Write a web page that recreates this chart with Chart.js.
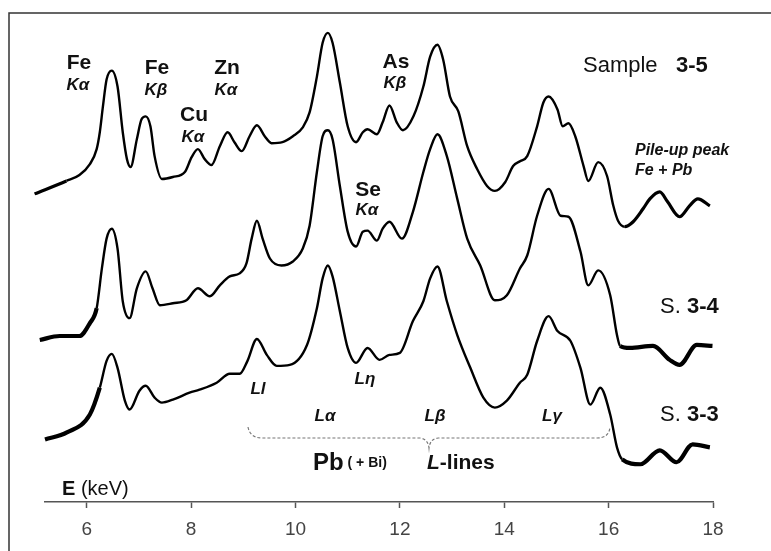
<!DOCTYPE html>
<html>
<head>
<meta charset="utf-8">
<script src="https://cdn.jsdelivr.net/npm/chart.js@4"></script>
<style>
  html, body { margin: 0; padding: 0; background: #fff; }
  #wrap { width: 771px; height: 551px; }
</style>
</head>
<body>
<div id="wrap"><canvas id="spectraChart" width="771" height="551"></canvas></div>
<script>
// Sample 3-5 (top trace)
const keV35 = [5.00, 5.61, 5.86, 6.06, 6.19, 6.25, 6.31, 6.38, 6.48, 6.59, 6.69, 6.77, 6.84, 6.96, 7.05, 7.13, 7.22, 7.30, 7.44, 7.65,
  7.88, 8.01, 8.13, 8.26, 8.39, 8.55, 8.70, 8.83, 8.97, 9.12, 9.26, 9.41, 9.54, 9.75, 9.95, 10.14, 10.27, 10.41, 10.52, 10.62,
  10.71, 10.85, 11.00, 11.16, 11.29, 11.38, 11.56, 11.67, 11.80, 11.94, 12.06, 12.26, 12.45, 12.58, 12.72, 12.83, 12.96, 13.12, 13.29, 13.48,
  13.67, 13.82, 14.02, 14.17, 14.31, 14.44, 14.63, 14.75, 14.85, 15.02, 15.12, 15.23, 15.36, 15.52, 15.61, 15.80, 15.97, 16.09, 16.18, 16.31,
  16.47, 16.66, 16.79, 16.98, 17.13, 17.36, 17.55, 17.71, 17.94];
const cnt35 = [310, 323, 329, 340, 355, 372, 398, 425, 434, 418, 372, 345, 337, 365, 385, 388, 378, 348, 325, 327,
  332, 347, 355, 345, 339, 358, 372, 362, 353, 368, 379, 368, 361, 362, 368, 377, 392, 428, 462, 472,
  462, 422, 378, 362, 372, 375, 370, 382, 399, 382, 374, 388, 418, 448, 460, 445, 408, 393, 358, 335,
  318, 313, 322, 338, 343, 348, 378, 402, 408, 395, 378, 381, 368, 338, 323, 342, 328, 298, 283, 277,
  282, 295, 305, 312, 302, 287, 298, 305, 298];

// S. 3-4 (middle trace)
const keV34 = [5.10, 5.48, 5.86, 6.06, 6.19, 6.29, 6.38, 6.48, 6.59, 6.69, 6.82, 6.96, 7.13, 7.26, 7.40, 7.65, 7.91, 8.13, 8.36, 8.55,
  8.74, 8.93, 9.06, 9.16, 9.26, 9.37, 9.51, 9.73, 9.95, 10.14, 10.27, 10.41, 10.52, 10.62, 10.71, 10.85, 11.00, 11.16, 11.29, 11.38,
  11.56, 11.67, 11.80, 12.04, 12.25, 12.45, 12.58, 12.72, 12.90, 13.10, 13.29, 13.54, 13.82, 14.05, 14.30, 14.44, 14.63, 14.85, 15.08, 15.23,
  15.46, 15.61, 15.80, 16.03, 16.16, 16.22, 16.41, 16.85, 17.17, 17.36, 17.69, 17.99];
const cnt34 = [163, 167, 167, 180, 195, 235, 265, 275, 255, 202, 185, 215, 232, 215, 198, 200, 203, 215, 207, 218,
  227, 230, 240, 265, 283, 265, 245, 238, 242, 255, 278, 332, 368, 374, 365, 318, 272, 257, 272, 273,
  263, 275, 282, 265, 292, 332, 355, 370, 348, 305, 265, 238, 203, 208, 235, 248, 288, 315, 288, 287,
  252, 218, 233, 208, 168, 157, 155, 157, 143, 138, 158, 157];

// S. 3-3 (bottom trace)
const keV33 = [5.20, 5.62, 6.06, 6.25, 6.38, 6.48, 6.59, 6.73, 6.82, 7.01, 7.13, 7.30, 7.44, 7.65, 7.97, 8.16, 8.49, 8.74, 8.93, 9.08,
  9.26, 9.45, 9.64, 9.89, 10.22, 10.41, 10.52, 10.62, 10.71, 10.85, 11.00, 11.16, 11.38, 11.61, 11.80, 12.00, 12.25, 12.45, 12.58, 12.72,
  12.90, 13.10, 13.35, 13.60, 13.82, 14.05, 14.30, 14.44, 14.63, 14.85, 15.02, 15.27, 15.46, 15.65, 15.84, 16.03, 16.16, 16.26, 16.61, 16.98,
  17.30, 17.61, 17.94];
const cnt33 = [63, 70, 88, 115, 142, 149, 135, 102, 93, 112, 117, 105, 100, 103, 110, 113, 120, 129, 129, 142,
  164, 148, 137, 138, 158, 195, 225, 238, 227, 192, 155, 140, 155, 143, 148, 150, 182, 202, 225, 237,
  202, 168, 135, 105, 95, 102, 120, 128, 162, 187, 172, 162, 135, 98, 115, 88, 55, 43, 38, 52,
  40, 58, 55];

const xTicks = [6, 8, 10, 12, 14, 16, 18];

const FONT = "'Liberation Sans', Arial, sans-serif";

function pts(xs, ys) {
  return xs.map((x, i) => ({ x: x, y: ys[i] }));
}

// thicker strokes where the measured trace is noisy
function noisyWidth(lo, hi, thick) {
  return ctx => {
    const x = ctx.p0.parsed.x;
    return (x < lo || x > hi) ? thick : 2.4;
  };
}

function drawRuns(ctx, x, y, runs) {
  let cx = x;
  ctx.textAlign = "left";
  runs.forEach(r => {
    ctx.font = r.f;
    ctx.fillText(r.t, cx, y);
    cx += ctx.measureText(r.t).width;
  });
}

const annotations = {
  id: "annotations",
  afterDraw(chart) {
    const ctx = chart.ctx;
    ctx.save();

    // frame (top and left only)
    ctx.strokeStyle = "#333";
    ctx.lineWidth = 1.5;
    ctx.beginPath();
    ctx.moveTo(9, 551);
    ctx.lineTo(9, 13);
    ctx.lineTo(771, 13);
    ctx.stroke();

    ctx.fillStyle = "#111";
    ctx.textBaseline = "middle";
    ctx.textAlign = "center";

    const el = "bold 21px " + FONT;
    const ln = "italic bold 17px " + FONT;
    [
      ["Fe", 79, 63, el], ["Kα", 78, 85, ln],
      ["Fe", 157, 68, el], ["Kβ", 156, 90, ln],
      ["Cu", 194, 115, el], ["Kα", 193, 137, ln],
      ["Zn", 227, 68, el], ["Kα", 226, 90, ln],
      ["As", 396, 62, el], ["Kβ", 395, 83, ln],
      ["Se", 368, 190, el], ["Kα", 367, 210, ln],
      ["Ll", 258, 389, ln], ["Lη", 365, 379, ln],
      ["Lα", 325, 416, ln], ["Lβ", 435, 416, ln], ["Lγ", 552, 416, ln]
    ].forEach(a => { ctx.font = a[3]; ctx.fillText(a[0], a[1], a[2]); });

    ctx.textAlign = "left";
    ctx.font = "italic bold 16px " + FONT;
    ctx.fillText("Pile-up peak", 635, 151);
    ctx.fillText("Fe + Pb", 635, 171);

    drawRuns(ctx, 583, 66, [
      { t: "Sample   ", f: "22px " + FONT },
      { t: "3-5", f: "bold 22px " + FONT }
    ]);
    drawRuns(ctx, 660, 307, [
      { t: "S. ", f: "22px " + FONT },
      { t: "3-4", f: "bold 22px " + FONT }
    ]);
    drawRuns(ctx, 660, 415, [
      { t: "S. ", f: "22px " + FONT },
      { t: "3-3", f: "bold 22px " + FONT }
    ]);
    drawRuns(ctx, 313, 463, [
      { t: "Pb", f: "bold 24px " + FONT },
      { t: " ( + Bi)", f: "bold 14px " + FONT }
    ]);
    drawRuns(ctx, 427, 463, [
      { t: "L", f: "italic bold 21px " + FONT },
      { t: "-lines", f: "bold 21px " + FONT }
    ]);
    drawRuns(ctx, 62, 489, [
      { t: "E", f: "bold 20px " + FONT },
      { t: " (keV)", f: "20px " + FONT }
    ]);

    // dashed brace under the Pb L-lines
    ctx.strokeStyle = "#777";
    ctx.lineWidth = 1.2;
    ctx.setLineDash([3, 2]);
    ctx.beginPath();
    ctx.moveTo(248, 427);
    ctx.quadraticCurveTo(250, 438, 262, 438);
    ctx.lineTo(420, 438);
    ctx.quadraticCurveTo(428, 439, 429, 448);
    ctx.quadraticCurveTo(430, 439, 438, 438);
    ctx.lineTo(597, 438);
    ctx.quadraticCurveTo(609, 438, 610, 427);
    ctx.stroke();
    ctx.restore();
  }
};

const common = {
  borderColor: "#000",
  borderWidth: 2.4,
  pointRadius: 0,
  cubicInterpolationMode: "monotone",
  clip: false
};

new Chart(document.getElementById("spectraChart"), {
  type: "line",
  data: {
    datasets: [
      Object.assign({ label: "Sample 3-5", data: pts(keV35, cnt35), segment: { borderWidth: noisyWidth(5.4, 16.3, 3.2) } }, common),
      Object.assign({ label: "S. 3-4", data: pts(keV34, cnt34), segment: { borderWidth: noisyWidth(6.1, 16.2, 4.2) } }, common),
      Object.assign({ label: "S. 3-3", data: pts(keV33, cnt33), segment: { borderWidth: noisyWidth(6.1, 16.2, 4.2) } }, common)
    ]
  },
  options: {
    responsive: false,
    animation: false,
    layout: { padding: { left: 45, right: 58, top: 13, bottom: 0 } },
    plugins: {
      legend: { display: false },
      tooltip: { enabled: false }
    },
    scales: {
      x: {
        type: "linear",
        min: 5.2,
        max: 18,
        afterBuildTicks: scale => { scale.ticks = xTicks.map(v => ({ value: v })); },
        grid: { display: true, drawOnChartArea: false, drawTicks: true, tickLength: 6, tickColor: "#555", tickWidth: 1.5 },
        border: { display: true, color: "#555", width: 1.5 },
        ticks: { color: "#444", padding: 12, font: { family: FONT, size: 19, lineHeight: 1 } }
      },
      y: {
        display: false,
        min: 0,
        max: 492
      }
    }
  },
  plugins: [annotations]
});
</script>
</body>
</html>
